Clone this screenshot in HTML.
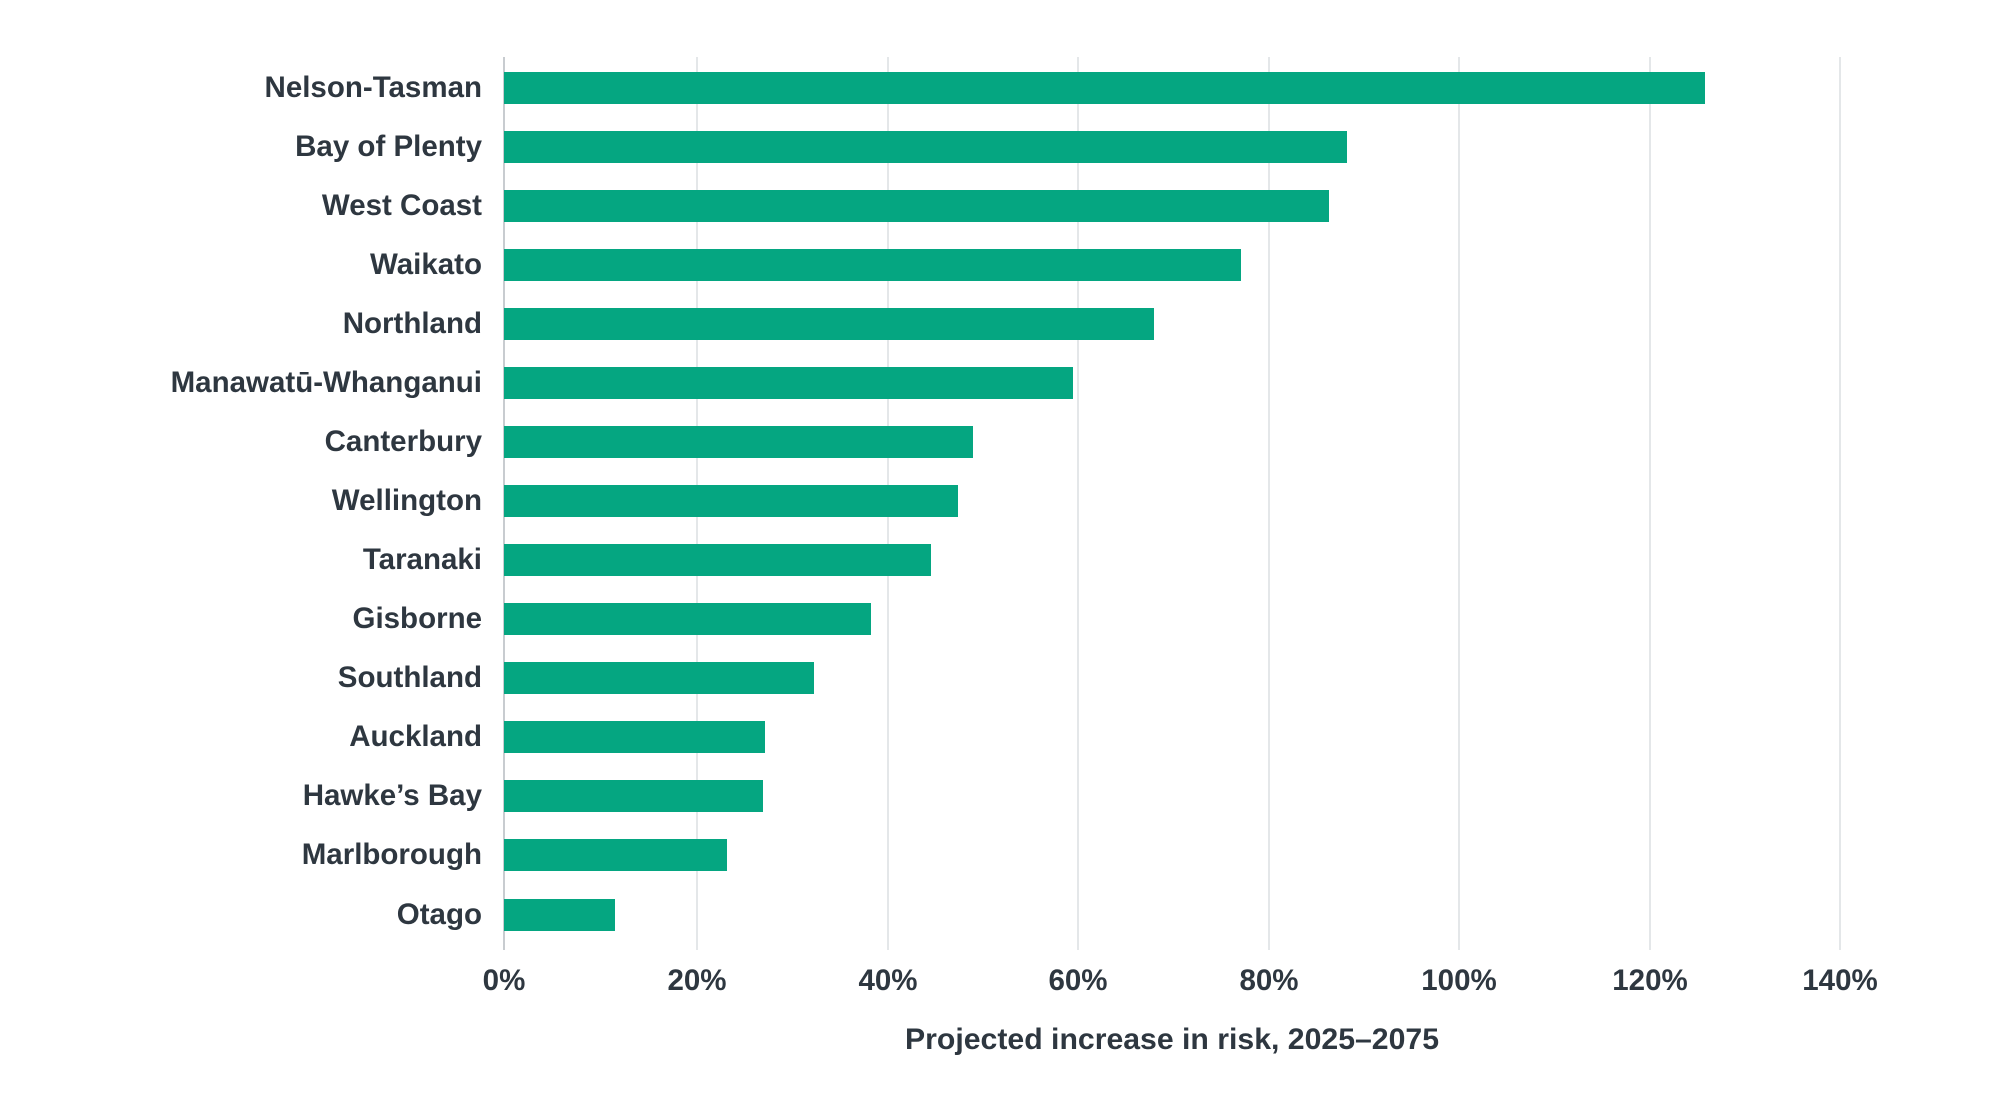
<!DOCTYPE html>
<html><head><meta charset="utf-8"><style>
html,body{margin:0;padding:0;background:#fff;}
svg text{font-family:"Liberation Sans",sans-serif;font-weight:bold;fill:#2e3740;}
</style></head><body>
<svg width="2000" height="1111" viewBox="0 0 2000 1111" xmlns="http://www.w3.org/2000/svg">
<g stroke="#dcdfe2" stroke-width="1.5">
<line x1="504" y1="57" x2="504" y2="950" stroke="#c8ccd0" stroke-width="2"/>
<line x1="697" y1="57" x2="697" y2="950"/>
<line x1="888" y1="57" x2="888" y2="950"/>
<line x1="1078" y1="57" x2="1078" y2="950"/>
<line x1="1269" y1="57" x2="1269" y2="950"/>
<line x1="1459" y1="57" x2="1459" y2="950"/>
<line x1="1650" y1="57" x2="1650" y2="950"/>
<line x1="1840" y1="57" x2="1840" y2="950"/>
</g>
<g fill="#05a681">
<rect x="504" y="72" width="1201" height="32"/>
<rect x="504" y="131" width="843" height="32"/>
<rect x="504" y="190" width="825" height="32"/>
<rect x="504" y="249" width="737" height="32"/>
<rect x="504" y="308" width="650" height="32"/>
<rect x="504" y="367" width="569" height="32"/>
<rect x="504" y="426" width="469" height="32"/>
<rect x="504" y="485" width="454" height="32"/>
<rect x="504" y="544" width="427" height="32"/>
<rect x="504" y="603" width="367" height="32"/>
<rect x="504" y="662" width="310" height="32"/>
<rect x="504" y="721" width="261" height="32"/>
<rect x="504" y="780" width="259" height="32"/>
<rect x="504" y="839" width="223" height="32"/>
<rect x="504" y="899" width="111" height="32"/>
</g>
<g font-size="29.5" text-anchor="end">
<text x="482" y="97">Nelson-Tasman</text>
<text x="482" y="156">Bay of Plenty</text>
<text x="482" y="215">West Coast</text>
<text x="482" y="274">Waikato</text>
<text x="482" y="333">Northland</text>
<text x="482" y="392">Manawatū-Whanganui</text>
<text x="482" y="451">Canterbury</text>
<text x="482" y="510">Wellington</text>
<text x="482" y="569">Taranaki</text>
<text x="482" y="628">Gisborne</text>
<text x="482" y="687">Southland</text>
<text x="482" y="746">Auckland</text>
<text x="482" y="805">Hawke’s Bay</text>
<text x="482" y="864">Marlborough</text>
<text x="482" y="924">Otago</text>
</g>
<g font-size="29.5" text-anchor="middle">
<text x="504" y="990">0%</text>
<text x="697" y="990">20%</text>
<text x="888" y="990">40%</text>
<text x="1078" y="990">60%</text>
<text x="1269" y="990">80%</text>
<text x="1459" y="990">100%</text>
<text x="1650" y="990">120%</text>
<text x="1840" y="990">140%</text>
<text x="1172" y="1049" textLength="534" lengthAdjust="spacingAndGlyphs">Projected increase in risk, 2025–2075</text>
</g>
</svg>
</body></html>
